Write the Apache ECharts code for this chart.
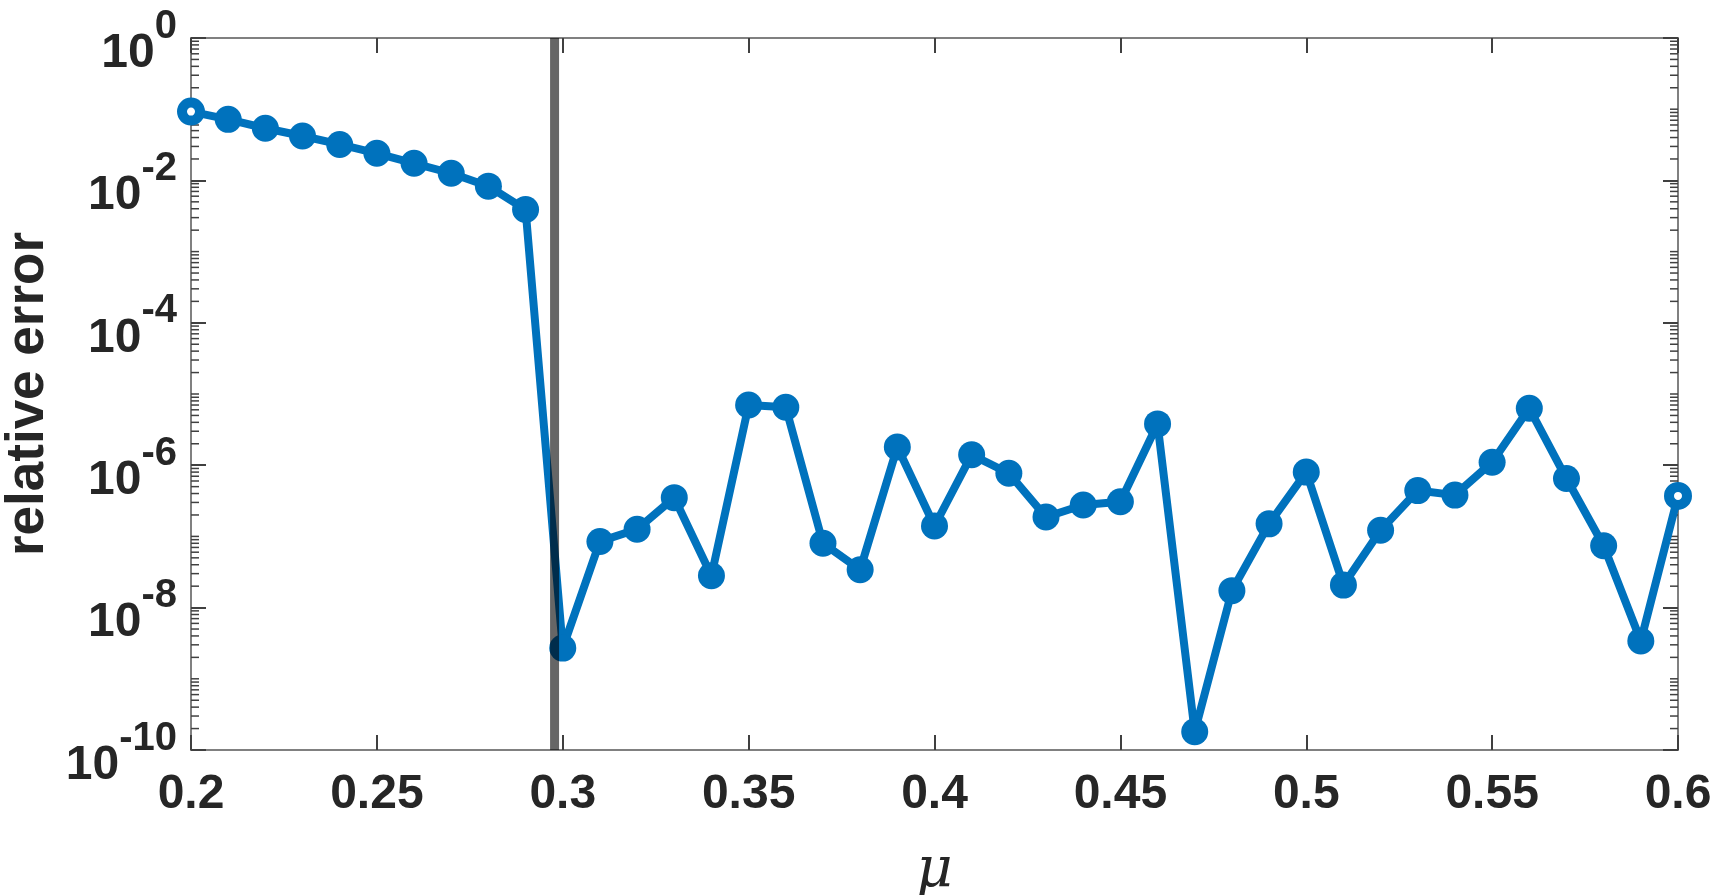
<!DOCTYPE html>
<html>
<head>
<meta charset="utf-8">
<script src="https://cdn.jsdelivr.net/npm/echarts@6/dist/echarts.min.js"></script>
<style>
  html, body { margin: 0; padding: 0; background: #fff; }
  #main { width: 1722px; height: 895px; }
</style>
</head>
<body>
<div id="main"></div>
<script>
// data
var mu = [0.20, 0.21, 0.22, 0.23, 0.24, 0.25, 0.26, 0.27, 0.28, 0.29,
  0.30, 0.31, 0.32, 0.33, 0.34, 0.35, 0.36, 0.37, 0.38, 0.39,
  0.40, 0.41, 0.42, 0.43, 0.44, 0.45, 0.46, 0.47, 0.48, 0.49,
  0.50, 0.51, 0.52, 0.53, 0.54, 0.55, 0.56, 0.57, 0.58, 0.59, 0.60];
var relErr = [0.0925, 0.072, 0.054, 0.042, 0.032, 0.024, 0.0174, 0.0126, 0.0083, 0.0039,
  2.7e-9, 8.5e-8, 1.26e-7, 3.5e-7, 2.8e-8, 7.0e-6, 6.5e-6, 8.0e-8, 3.4e-8, 1.8e-6,
  1.4e-7, 1.4e-6, 7.7e-7, 1.87e-7, 2.76e-7, 3.07e-7, 3.8e-6, 1.8e-10, 1.73e-8, 1.5e-7,
  8.0e-7, 2.07e-8, 1.22e-7, 4.4e-7, 3.8e-7, 1.1e-6, 6.3e-6, 6.5e-7, 7.4e-8, 3.4e-9, 3.7e-7];
var ringPoints = [0, 40];          // first and last markers show as rings
var thresholdMu = 0.2978;         // grey vertical line
var xRange = [0.2, 0.6];
var yRange = [1e-10, 1];

// minor ticks of the log axis: 2..9 in every decade, plus odd decades
var minorTicks = [];
for (var e = -10; e < 0; e++) {
  if (e % 2 !== 0) minorTicks.push(Math.pow(10, e));
  for (var m = 2; m <= 9; m++) minorTicks.push(m * Math.pow(10, e));
}

var blue = '#0072BD';
var txt = '#262626';
var font = 'Liberation Sans';

var lineData = mu.map(function (x, i) {
  if (ringPoints.indexOf(i) >= 0) {
    return {
      value: [x, relErr[i]],
      symbolSize: 18,
      itemStyle: { color: '#fff', borderColor: blue, borderWidth: 10 }
    };
  }
  return [x, relErr[i]];
});

var chart = echarts.init(document.getElementById('main'));

var axisLine = { show: true, lineStyle: { color: '#808080', width: 2 } };
var majorTick = { show: true, inside: true, length: 15, lineStyle: { color: '#404040', width: 2 } };

chart.setOption({
  animation: false,
  backgroundColor: '#fff',
  grid: { left: 191, right: 44, top: 38, bottom: 145, containLabel: false, outerBoundsMode: 'none' },
  xAxis: [{
    type: 'value',
    position: 'bottom',
    min: xRange[0], max: xRange[1], interval: 0.05,
    axisLine: axisLine, axisTick: majorTick,
    splitLine: { show: false },
    axisLabel: {
      fontFamily: font, fontSize: 48, fontWeight: 'bold', color: txt, margin: 21,
      formatter: function (v) { return String(+v.toFixed(2)); }
    },
    name: 'μ',
    nameLocation: 'middle',
    nameGap: 121,
    nameTextStyle: { fontFamily: 'DejaVu Serif', fontStyle: 'italic', fontSize: 56, color: txt, verticalAlign: 'middle' }
  }, {
    type: 'value',
    position: 'top',
    min: xRange[0], max: xRange[1], interval: 0.05,
    axisLine: axisLine, axisTick: majorTick,
    splitLine: { show: false },
    axisLabel: { show: false }
  }],
  yAxis: [{
    type: 'log',
    logBase: 10,
    min: yRange[0], max: yRange[1], interval: 2,
    axisLine: axisLine, axisTick: majorTick,
    splitLine: { show: false },
    minorTick: { show: false },
    axisLabel: {
      margin: 14,
      padding: [8, 0, 0, 0],
      formatter: function (v) {
        var ex = Math.round(Math.log10(v));
        return '{b|10}{s|' + ex + '}';
      },
      rich: {
        b: { fontFamily: font, fontSize: 48, fontWeight: 'bold', color: txt, lineHeight: 71, verticalAlign: 'bottom' },
        s: { fontFamily: font, fontSize: 40, fontWeight: 'bold', color: txt, lineHeight: 38, verticalAlign: 'top' }
      }
    },
    name: 'relative error',
    nameLocation: 'middle',
    nameRotate: 90,
    nameGap: 158,
    nameTextStyle: { fontFamily: font, fontSize: 53, fontWeight: 'bold', color: txt, verticalAlign: 'middle' }
  }, {
    type: 'log',
    logBase: 10,
    position: 'right',
    min: yRange[0], max: yRange[1], interval: 2,
    axisLine: axisLine, axisTick: majorTick,
    splitLine: { show: false },
    axisLabel: { show: false }
  }],
  series: [{
    type: 'custom',
    silent: true,
    clip: false,
    z: 1,
    data: minorTicks.map(function (v) { return [xRange[0], v]; }),
    renderItem: function (params, api) {
      var cs = params.coordSys;
      var y = api.coord([api.value(0), api.value(1)])[1];
      var st = { stroke: '#404040', lineWidth: 1.5 };
      return {
        type: 'group',
        children: [
          { type: 'line', shape: { x1: cs.x, y1: y, x2: cs.x + 8, y2: y }, style: st },
          { type: 'line', shape: { x1: cs.x + cs.width, y1: y, x2: cs.x + cs.width - 8, y2: y }, style: st }
        ]
      };
    }
  }, {
    type: 'line',
    data: lineData,
    clip: false,
    z: 3,
    symbol: 'circle',
    symbolSize: 27,
    lineStyle: { color: blue, width: 8 },
    itemStyle: { color: blue }
  }, {
    type: 'line',
    data: [[thresholdMu, yRange[0]], [thresholdMu, yRange[1]]],
    z: 10,
    symbol: 'none',
    silent: true,
    lineStyle: { color: 'rgba(0,0,0,0.6)', width: 9 }
  }]
});
</script>
</body>
</html>
